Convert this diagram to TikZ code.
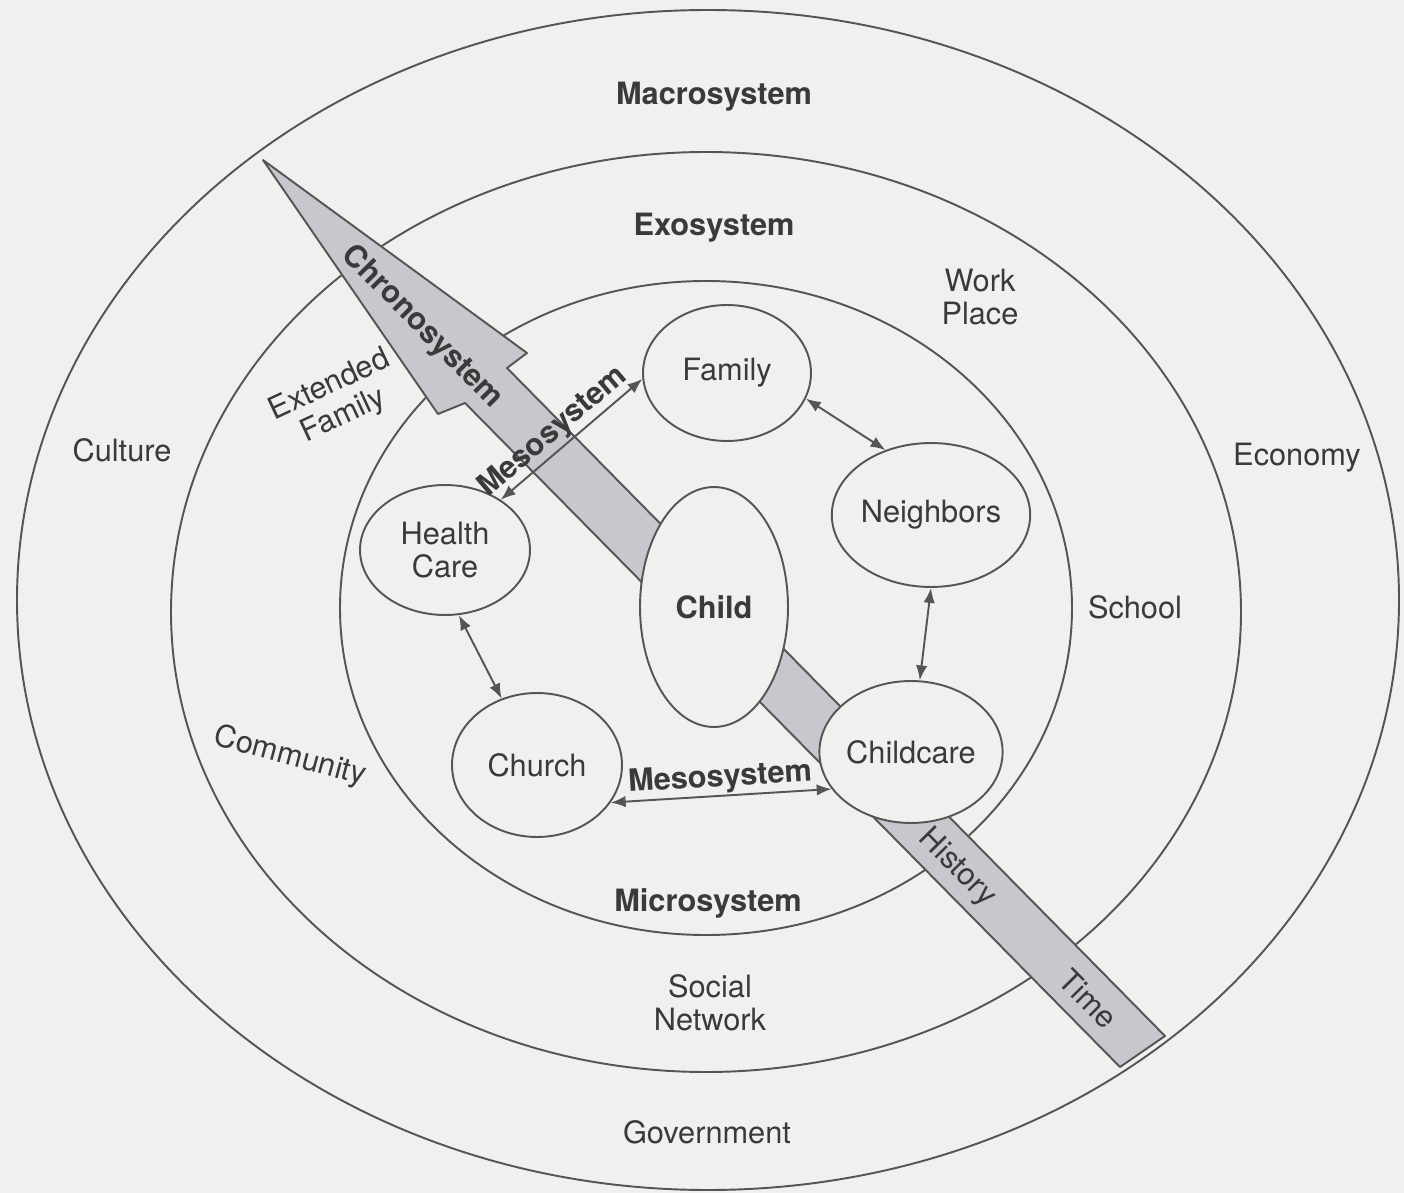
\documentclass[tikz,border=0pt]{standalone}
\usepackage{fontspec}
\setmainfont{TeX Gyre Heros}
\usepackage{tikz}
\usetikzlibrary{arrows.meta,shapes.geometric}
\definecolor{papel}{HTML}{F0F0EF}
\definecolor{traco}{HTML}{555555}
\definecolor{texto}{HTML}{3A3A3A}
\definecolor{seta}{HTML}{C9C7CD}
\tikzstyle{anel}=[draw=traco, line width=1.1pt]
\tikzstyle{ambiente}=[ellipse, draw=traco, fill=papel, line width=1.1pt, text=texto, inner sep=0pt, align=center, font=\fontsize{17.5}{19}\selectfont]
\tikzstyle{rotulo}=[text=texto, align=center, inner sep=1pt, font=\fontsize{17.5}{19}\selectfont]
\tikzstyle{nivel}=[rotulo, font=\fontsize{17.5}{19}\selectfont\bfseries]
\tikzstyle{ligacao}=[draw=traco, line width=1.1pt, <->, >={Latex[length=8.5pt,width=6.5pt]}]

\begin{document}
\begin{tikzpicture}[x=0.02cm, y=-0.02cm]
			\useasboundingbox (0,0) rectangle (1404,1193);
			\fill[papel] (0,0) rectangle (1404,1193);
			% rings
			\draw[anel] (708,600) ellipse [x radius=691, y radius=590];
			\draw[anel] (706,612) ellipse [x radius=535, y radius=460];
			\draw[anel] (706,608) ellipse [x radius=366, y radius=327];
			% chronosystem arrow
			\draw[traco, fill=seta, line width=1.1pt, line join=round] (263,160) -- (527,353) -- (507,368) -- (1165,1036) -- (1120,1067) -- (465,403) -- (438,414) -- cycle;
			% settings
			\node[ambiente, font=\fontsize{17.5}{19}\selectfont\bfseries, minimum width=2.96cm, minimum height=4.8cm] (crianca) at (714,607) {Child};
			\node[ambiente, minimum width=3.36cm, minimum height=2.72cm] (familia) at (727,373) {Family};
			\node[ambiente, minimum width=3.44cm, minimum height=2.88cm] (vizinhos) at (931,515) {Neighbors};
			\node[ambiente, minimum width=3.32cm, minimum height=2.84cm] (creche) at (911,752) {Childcare};
			\node[ambiente, minimum width=3.4cm, minimum height=2.88cm] (igreja) at (537,765) {Church};
			\node[ambiente, minimum width=3.4cm, minimum height=2.6cm] (saude) at (445,550) {Health\\Care};
			% links
			\draw[ligacao] (saude.42) -- node[nivel, pos=0.45, sloped, above] (meso1) {Mesosystem} (familia.184);
			\draw[ligacao] (familia.-18) -- (vizinhos.125);
			\draw[ligacao] (vizinhos.-90) -- (creche.83);
			\draw[ligacao] (saude.-78) -- (igreja.118);
			\draw[ligacao] (igreja.-27) -- node[nivel, midway, sloped, above] (meso2) {Mesosystem} (creche.205);
			% labels
			\node[nivel] (macro) at (714,97) {Macrosystem};
			\node[nivel] (exo) at (714,228) {Exosystem};
			\node[nivel] (micro) at (708,903) {Microsystem};
			\node[nivel, rotate=-45.4] (crono) at (422,327) {Chronosystem};
			\node[rotulo, rotate=-45.4] (historia) at (957,868) {History};
			\node[rotulo, rotate=-45.4] (tempo) at (1088,999) {Time};
			\node[rotulo] (trabalho) at (980,297) {Work\\Place};
			\node[rotulo, rotate=25] (parentes) at (337,401) {Extended\\Family};
			\node[rotulo] (cultura) at (122,450) {Culture};
			\node[rotulo] (economia) at (1297,458) {Economy};
			\node[rotulo] (escola) at (1135,607) {School};
			\node[rotulo, rotate=-15] (comunidade) at (290,757) {Community};
			\node[rotulo] (rede) at (710,1003) {Social\\Network};
			\node[rotulo] (governo) at (707,1132) {Government};
		\end{tikzpicture}
\end{document}
